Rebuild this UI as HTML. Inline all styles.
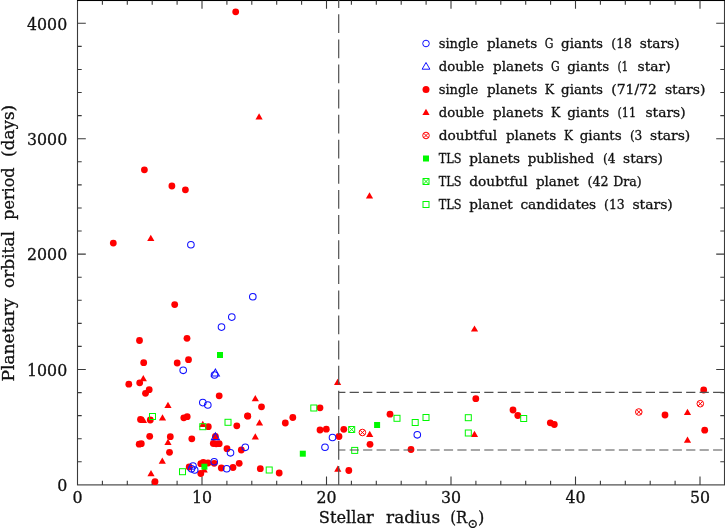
<!DOCTYPE html><html><head><meta charset="utf-8"><title>Planetary orbital period vs stellar radius</title>
<style>html,body{margin:0;padding:0;background:#fff}body{width:725px;height:528px;overflow:hidden}svg{display:block;will-change:transform}text{font-family:"DejaVu Serif","Liberation Serif",serif;fill:#111;stroke:#111;stroke-width:0.3px}</style></head><body>
<svg width="725" height="528" viewBox="0 0 725 528">
<rect width="725" height="528" fill="#fff"/>
<g stroke="#3a3a3a" stroke-width="1.1" fill="none">
<rect x="77.5" y="0.5" width="647.0" height="484.4"/>
<line x1="77.0" y1="0.4" x2="725" y2="0.4" stroke="#000" stroke-width="1.3"/>
<path d="M102.40,484.9v-4.2M102.40,0.5v4.2M127.30,484.9v-4.2M127.30,0.5v4.2M152.20,484.9v-4.2M152.20,0.5v4.2M177.10,484.9v-4.2M177.10,0.5v4.2M202.00,484.9v-8.3M202.00,0.5v8.3M226.90,484.9v-4.2M226.90,0.5v4.2M251.80,484.9v-4.2M251.80,0.5v4.2M276.70,484.9v-4.2M276.70,0.5v4.2M301.60,484.9v-4.2M301.60,0.5v4.2M326.50,484.9v-8.3M326.50,0.5v8.3M351.40,484.9v-4.2M351.40,0.5v4.2M376.30,484.9v-4.2M376.30,0.5v4.2M401.20,484.9v-4.2M401.20,0.5v4.2M426.10,484.9v-4.2M426.10,0.5v4.2M451.00,484.9v-8.3M451.00,0.5v8.3M475.90,484.9v-4.2M475.90,0.5v4.2M500.80,484.9v-4.2M500.80,0.5v4.2M525.70,484.9v-4.2M525.70,0.5v4.2M550.60,484.9v-4.2M550.60,0.5v4.2M575.50,484.9v-8.3M575.50,0.5v8.3M600.40,484.9v-4.2M600.40,0.5v4.2M625.30,484.9v-4.2M625.30,0.5v4.2M650.20,484.9v-4.2M650.20,0.5v4.2M675.10,484.9v-4.2M675.10,0.5v4.2M700.00,484.9v-8.3M700.00,0.5v8.3M77.5,461.82h4.2M724.5,461.82h-4.2M77.5,438.74h4.2M724.5,438.74h-4.2M77.5,415.66h4.2M724.5,415.66h-4.2M77.5,392.58h4.2M724.5,392.58h-4.2M77.5,369.50h8.3M724.5,369.50h-8.3M77.5,346.42h4.2M724.5,346.42h-4.2M77.5,323.34h4.2M724.5,323.34h-4.2M77.5,300.26h4.2M724.5,300.26h-4.2M77.5,277.18h4.2M724.5,277.18h-4.2M77.5,254.10h8.3M724.5,254.10h-8.3M77.5,231.02h4.2M724.5,231.02h-4.2M77.5,207.94h4.2M724.5,207.94h-4.2M77.5,184.86h4.2M724.5,184.86h-4.2M77.5,161.78h4.2M724.5,161.78h-4.2M77.5,138.70h8.3M724.5,138.70h-8.3M77.5,115.62h4.2M724.5,115.62h-4.2M77.5,92.54h4.2M724.5,92.54h-4.2M77.5,69.46h4.2M724.5,69.46h-4.2M77.5,46.38h4.2M724.5,46.38h-4.2M77.5,23.30h8.3M724.5,23.30h-8.3"/>
</g>
<g font-size="17">
<text x="72.5" y="503.4" textLength="10.1" lengthAdjust="spacingAndGlyphs">0</text>
<text x="191.9" y="503.4" textLength="20.1" lengthAdjust="spacingAndGlyphs">10</text>
<text x="316.4" y="503.4" textLength="20.1" lengthAdjust="spacingAndGlyphs">20</text>
<text x="440.9" y="503.4" textLength="20.1" lengthAdjust="spacingAndGlyphs">30</text>
<text x="565.5" y="503.4" textLength="20.1" lengthAdjust="spacingAndGlyphs">40</text>
<text x="690.0" y="503.4" textLength="20.1" lengthAdjust="spacingAndGlyphs">50</text>
<text x="57.2" y="491.1" textLength="10.1" lengthAdjust="spacingAndGlyphs">0</text>
<text x="27.0" y="375.7" textLength="40.2" lengthAdjust="spacingAndGlyphs">1000</text>
<text x="27.0" y="260.3" textLength="40.2" lengthAdjust="spacingAndGlyphs">2000</text>
<text x="27.0" y="144.9" textLength="40.2" lengthAdjust="spacingAndGlyphs">3000</text>
<text x="27.0" y="29.5" textLength="40.2" lengthAdjust="spacingAndGlyphs">4000</text>
</g>
<g font-size="16.3">
<text y="523.3"><tspan x="318.8" textLength="55.1" lengthAdjust="spacingAndGlyphs">Stellar</tspan> <tspan x="386.1" textLength="54.0" lengthAdjust="spacingAndGlyphs">radius</tspan> <tspan x="450.3" textLength="17.0" lengthAdjust="spacingAndGlyphs">(R</tspan><tspan x="467.6" dy="4.2" font-size="12.8">⊙</tspan><tspan x="477.9" dy="-4.2">)</tspan></text>
<text transform="translate(14.1,381.6) rotate(-90)" y="0"><tspan x="0.0" textLength="83.3" lengthAdjust="spacingAndGlyphs">Planetary</tspan> <tspan x="93.7" textLength="56.8" lengthAdjust="spacingAndGlyphs">orbital</tspan> <tspan x="161.9" textLength="52.3" lengthAdjust="spacingAndGlyphs">period</tspan> <tspan x="224.7" textLength="52.0" lengthAdjust="spacingAndGlyphs">(days)</tspan></text>
</g>
<g fill="#ff0000" stroke="none">
<polygon points="139.7,381.2 146.9,381.2 143.3,375.0"/>
<polygon points="164.4,408.0 171.6,408.0 168.0,401.8"/>
<polygon points="139.9,423.0 147.1,423.0 143.5,416.8"/>
<polygon points="158.9,420.5 166.1,420.5 162.5,414.3"/>
<polygon points="199.2,427.0 206.4,427.0 202.8,420.8"/>
<polygon points="164.4,445.0 171.6,445.0 168.0,438.8"/>
<polygon points="158.7,463.8 165.9,463.8 162.3,457.6"/>
<polygon points="147.4,476.2 154.6,476.2 151.0,470.0"/>
<polygon points="255.9,425.5 263.1,425.5 259.5,419.3"/>
<polygon points="251.7,439.5 258.9,439.5 255.3,433.3"/>
<polygon points="200.6,472.5 207.8,472.5 204.2,466.3"/>
<polygon points="251.7,401.2 258.9,401.2 255.3,395.0"/>
<polygon points="334.0,385.0 341.2,385.0 337.6,378.8"/>
<polygon points="366.1,437.0 373.3,437.0 369.7,430.8"/>
<polygon points="334.2,471.7 341.4,471.7 337.8,465.5"/>
<polygon points="147.2,241.0 154.4,241.0 150.8,234.8"/>
<polygon points="255.5,119.5 262.7,119.5 259.1,113.3"/>
<polygon points="365.9,198.4 373.1,198.4 369.5,192.2"/>
<polygon points="470.9,331.6 478.1,331.6 474.5,325.4"/>
<polygon points="470.9,437.0 478.1,437.0 474.5,430.8"/>
<polygon points="683.9,415.0 691.1,415.0 687.5,408.8"/>
<polygon points="683.9,442.8 691.1,442.8 687.5,436.6"/>
<circle cx="139.5" cy="340.5" r="3.4"/>
<circle cx="187.0" cy="338.3" r="3.4"/>
<circle cx="143.7" cy="362.7" r="3.4"/>
<circle cx="177.2" cy="363.0" r="3.4"/>
<circle cx="188.5" cy="359.7" r="3.4"/>
<circle cx="128.8" cy="384.2" r="3.4"/>
<circle cx="139.7" cy="382.8" r="3.4"/>
<circle cx="149.2" cy="389.7" r="3.4"/>
<circle cx="145.5" cy="393.3" r="3.4"/>
<circle cx="140.5" cy="419.5" r="3.4"/>
<circle cx="150.3" cy="420.0" r="3.4"/>
<circle cx="183.8" cy="417.8" r="3.4"/>
<circle cx="187.2" cy="416.7" r="3.4"/>
<circle cx="208.3" cy="426.7" r="3.4"/>
<circle cx="149.7" cy="436.3" r="3.4"/>
<circle cx="170.3" cy="436.7" r="3.4"/>
<circle cx="191.8" cy="438.8" r="3.4"/>
<circle cx="139.2" cy="444.2" r="3.4"/>
<circle cx="141.3" cy="443.7" r="3.4"/>
<circle cx="169.5" cy="452.3" r="3.4"/>
<circle cx="155.0" cy="481.7" r="3.4"/>
<circle cx="189.2" cy="467.0" r="3.4"/>
<circle cx="200.8" cy="463.7" r="3.4"/>
<circle cx="203.3" cy="462.5" r="3.4"/>
<circle cx="208.0" cy="463.0" r="3.4"/>
<circle cx="200.8" cy="473.5" r="3.4"/>
<circle cx="214.2" cy="463.3" r="3.4"/>
<circle cx="236.8" cy="425.8" r="3.4"/>
<circle cx="247.8" cy="416.2" r="3.4"/>
<circle cx="261.5" cy="406.8" r="3.4"/>
<circle cx="285.3" cy="423.0" r="3.4"/>
<circle cx="292.8" cy="417.5" r="3.4"/>
<circle cx="215.4" cy="436.4" r="3.4"/>
<circle cx="213.3" cy="443.5" r="3.4"/>
<circle cx="216.2" cy="443.8" r="3.4"/>
<circle cx="219.2" cy="443.7" r="3.4"/>
<circle cx="227.0" cy="448.7" r="3.4"/>
<circle cx="241.3" cy="450.0" r="3.4"/>
<circle cx="239.2" cy="463.3" r="3.4"/>
<circle cx="233.0" cy="467.5" r="3.4"/>
<circle cx="221.3" cy="468.0" r="3.4"/>
<circle cx="260.3" cy="468.7" r="3.4"/>
<circle cx="279.2" cy="473.0" r="3.4"/>
<circle cx="219.2" cy="395.8" r="3.4"/>
<circle cx="247.5" cy="415.8" r="3.4"/>
<circle cx="320.0" cy="407.8" r="3.4"/>
<circle cx="320.0" cy="430.0" r="3.4"/>
<circle cx="326.3" cy="429.2" r="3.4"/>
<circle cx="343.8" cy="429.3" r="3.4"/>
<circle cx="339.0" cy="436.5" r="3.4"/>
<circle cx="370.0" cy="444.3" r="3.4"/>
<circle cx="348.8" cy="470.5" r="3.4"/>
<circle cx="390.0" cy="414.2" r="3.4"/>
<circle cx="411.0" cy="449.5" r="3.4"/>
<circle cx="174.7" cy="304.6" r="3.4"/>
<circle cx="144.4" cy="169.8" r="3.4"/>
<circle cx="171.9" cy="186.0" r="3.4"/>
<circle cx="185.4" cy="189.8" r="3.4"/>
<circle cx="113.3" cy="243.1" r="3.4"/>
<circle cx="235.7" cy="11.8" r="3.4"/>
<circle cx="475.8" cy="398.7" r="3.4"/>
<circle cx="513.0" cy="410.0" r="3.4"/>
<circle cx="517.8" cy="415.5" r="3.4"/>
<circle cx="550.3" cy="422.8" r="3.4"/>
<circle cx="554.3" cy="424.5" r="3.4"/>
<circle cx="703.7" cy="390.0" r="3.4"/>
<circle cx="665.0" cy="415.0" r="3.4"/>
<circle cx="704.7" cy="430.2" r="3.4"/>
</g>
<g fill="none" stroke="#ff0000" stroke-width="1">
<circle cx="362.4" cy="432.5" r="3.3"/><path d="M360.1,430.2l4.6,4.6m0,-4.6l-4.6,4.6"/>
<circle cx="700.3" cy="403.7" r="3.3"/><path d="M698.0,401.4l4.6,4.6m0,-4.6l-4.6,4.6"/>
<circle cx="638.8" cy="412.0" r="3.3"/><path d="M636.5,409.7l4.6,4.6m0,-4.6l-4.6,4.6"/>
</g>
<g fill="none" stroke="#1010ff" stroke-width="1.05">
<circle cx="183.2" cy="370.3" r="3.3"/>
<circle cx="202.8" cy="402.6" r="3.3"/>
<circle cx="207.8" cy="405.0" r="3.3"/>
<circle cx="193.0" cy="466.0" r="3.3"/>
<circle cx="191.5" cy="468.8" r="3.3"/>
<circle cx="194.7" cy="470.0" r="3.3"/>
<circle cx="230.5" cy="452.8" r="3.3"/>
<circle cx="245.3" cy="447.3" r="3.3"/>
<circle cx="226.7" cy="468.7" r="3.3"/>
<circle cx="214.2" cy="461.7" r="3.3"/>
<circle cx="214.5" cy="375.0" r="3.3"/>
<circle cx="332.5" cy="437.5" r="3.3"/>
<circle cx="325.0" cy="447.2" r="3.3"/>
<circle cx="417.3" cy="434.8" r="3.3"/>
<circle cx="190.9" cy="244.7" r="3.3"/>
<circle cx="252.8" cy="296.7" r="3.3"/>
<circle cx="231.8" cy="317.1" r="3.3"/>
<circle cx="221.5" cy="327.1" r="3.3"/>
<polygon points="211.4,375.9 219.4,375.9 215.4,369.0"/>
<polygon points="211.4,439.6 219.4,439.6 215.4,432.7"/>
</g>
<g fill="#00f800" stroke="none">
<rect x="217.0" y="352.0" width="6" height="6"/>
<rect x="201.4" y="463.7" width="6" height="6"/>
<rect x="299.8" y="450.7" width="6" height="6"/>
<rect x="374.1" y="422.0" width="6" height="6"/>
</g>
<g fill="none" stroke="#00f800" stroke-width="1">
<rect x="149.5" y="413.5" width="6" height="6"/>
<rect x="199.8" y="423.7" width="6" height="6"/>
<rect x="225.0" y="419.3" width="6" height="6"/>
<rect x="179.5" y="468.7" width="6" height="6"/>
<rect x="266.2" y="467.0" width="6" height="6"/>
<rect x="310.8" y="405.0" width="6" height="6"/>
<rect x="351.7" y="447.4" width="6" height="6"/>
<rect x="394.0" y="415.3" width="6" height="6"/>
<rect x="412.2" y="419.5" width="6" height="6"/>
<rect x="423.0" y="414.5" width="6" height="6"/>
<rect x="465.3" y="414.7" width="6" height="6"/>
<rect x="465.3" y="430.0" width="6" height="6"/>
<rect x="520.7" y="415.5" width="6" height="6"/>
<path d="M348.7,426.5h6v6h-6zl6,6m0,-6l-6,6"/>
</g>
<g stroke="#505050" stroke-width="1.2" fill="none">
<line x1="338.7" y1="484.9" x2="338.7" y2="0" stroke-dasharray="18.8 6.3"/>
<line x1="338.7" y1="392.4" x2="724.5" y2="392.4" stroke-dasharray="9.2 4.26" stroke-dashoffset="2.5"/>
<line x1="338.7" y1="450" x2="724.5" y2="450" stroke-dasharray="9.2 4.26" stroke-dashoffset="2.5"/>
</g>
<circle cx="426" cy="43.5" r="3.3" fill="none" stroke="#1010ff"/>
<polygon points="422.1,69.2 429.9,69.2 426.0,62.5" fill="none" stroke="#1010ff"/>
<circle cx="426" cy="89.5" r="3.5" fill="#ff0000"/>
<polygon points="422.4,115.0 429.6,115.0 426.0,108.8" fill="#ff0000"/>
<g fill="none" stroke="#ff0000" stroke-width="1"><circle cx="426" cy="135.5" r="3.3"/><path d="M423.7,133.2l4.6,4.6m0,-4.6l-4.6,4.6"/></g>
<rect x="423" y="155.5" width="6" height="6" fill="#00f800"/>
<path d="M423,178.5h6v6h-6zl6,6m0,-6l-6,6" fill="none" stroke="#00f800" stroke-width="1"/>
<rect x="423" y="201.5" width="6" height="6" fill="none" stroke="#00f800"/>
<g font-size="12.8">
<text y="47.6"><tspan x="438.7" textLength="39.5" lengthAdjust="spacingAndGlyphs">single</tspan> <tspan x="486.9" textLength="50.3" lengthAdjust="spacingAndGlyphs">planets</tspan> <tspan x="544.8" textLength="8.7" lengthAdjust="spacingAndGlyphs">G</tspan> <tspan x="561.0" textLength="42.0" lengthAdjust="spacingAndGlyphs">giants</tspan> <tspan x="611.3" textLength="20.7" lengthAdjust="spacingAndGlyphs">(18</tspan> <tspan x="639.7" textLength="39.9" lengthAdjust="spacingAndGlyphs">stars)</tspan></text>
<text y="70.6"><tspan x="438.7" textLength="45.5" lengthAdjust="spacingAndGlyphs">double</tspan> <tspan x="493.1" textLength="50.3" lengthAdjust="spacingAndGlyphs">planets</tspan> <tspan x="551.0" textLength="8.7" lengthAdjust="spacingAndGlyphs">G</tspan> <tspan x="567.2" textLength="42.0" lengthAdjust="spacingAndGlyphs">giants</tspan> <tspan x="617.5" textLength="10.8" lengthAdjust="spacingAndGlyphs">(1</tspan> <tspan x="637.6" textLength="33.1" lengthAdjust="spacingAndGlyphs">star)</tspan></text>
<text y="93.6"><tspan x="438.7" textLength="39.5" lengthAdjust="spacingAndGlyphs">single</tspan> <tspan x="486.9" textLength="50.3" lengthAdjust="spacingAndGlyphs">planets</tspan> <tspan x="544.8" textLength="9.3" lengthAdjust="spacingAndGlyphs">K</tspan> <tspan x="561.0" textLength="42.0" lengthAdjust="spacingAndGlyphs">giants</tspan> <tspan x="611.3" textLength="45.5" lengthAdjust="spacingAndGlyphs">(71/72</tspan> <tspan x="664.9" textLength="40.6" lengthAdjust="spacingAndGlyphs">stars)</tspan></text>
<text y="116.6"><tspan x="438.7" textLength="45.5" lengthAdjust="spacingAndGlyphs">double</tspan> <tspan x="493.1" textLength="50.3" lengthAdjust="spacingAndGlyphs">planets</tspan> <tspan x="551.0" textLength="9.3" lengthAdjust="spacingAndGlyphs">K</tspan> <tspan x="567.2" textLength="42.0" lengthAdjust="spacingAndGlyphs">giants</tspan> <tspan x="617.5" textLength="18.6" lengthAdjust="spacingAndGlyphs">(11</tspan> <tspan x="645.5" textLength="40.1" lengthAdjust="spacingAndGlyphs">stars)</tspan></text>
<text y="139.6"><tspan x="438.7" textLength="58.5" lengthAdjust="spacingAndGlyphs">doubtful</tspan> <tspan x="505.9" textLength="50.3" lengthAdjust="spacingAndGlyphs">planets</tspan> <tspan x="564.1" textLength="8.9" lengthAdjust="spacingAndGlyphs">K</tspan> <tspan x="579.7" textLength="42.0" lengthAdjust="spacingAndGlyphs">giants</tspan> <tspan x="629.9" textLength="12.4" lengthAdjust="spacingAndGlyphs">(3</tspan> <tspan x="650.0" textLength="40.3" lengthAdjust="spacingAndGlyphs">stars)</tspan></text>
<text y="162.6"><tspan x="438.7" textLength="22.8" lengthAdjust="spacingAndGlyphs">TLS</tspan> <tspan x="469.3" textLength="50.7" lengthAdjust="spacingAndGlyphs">planets</tspan> <tspan x="527.7" textLength="66.4" lengthAdjust="spacingAndGlyphs">published</tspan> <tspan x="603.0" textLength="12.4" lengthAdjust="spacingAndGlyphs">(4</tspan> <tspan x="623.1" textLength="39.9" lengthAdjust="spacingAndGlyphs">stars)</tspan></text>
<text y="185.6"><tspan x="438.7" textLength="22.8" lengthAdjust="spacingAndGlyphs">TLS</tspan> <tspan x="469.3" textLength="58.4" lengthAdjust="spacingAndGlyphs">doubtful</tspan> <tspan x="535.9" textLength="43.1" lengthAdjust="spacingAndGlyphs">planet</tspan> <tspan x="587.5" textLength="21.1" lengthAdjust="spacingAndGlyphs">(42</tspan> <tspan x="613.2" textLength="28.5" lengthAdjust="spacingAndGlyphs">Dra)</tspan></text>
<text y="208.6"><tspan x="438.7" textLength="22.8" lengthAdjust="spacingAndGlyphs">TLS</tspan> <tspan x="469.3" textLength="43.5" lengthAdjust="spacingAndGlyphs">planet</tspan> <tspan x="520.4" textLength="75.8" lengthAdjust="spacingAndGlyphs">candidates</tspan> <tspan x="604.1" textLength="20.7" lengthAdjust="spacingAndGlyphs">(13</tspan> <tspan x="632.4" textLength="40.4" lengthAdjust="spacingAndGlyphs">stars)</tspan></text>
</g>
</svg></body></html>
